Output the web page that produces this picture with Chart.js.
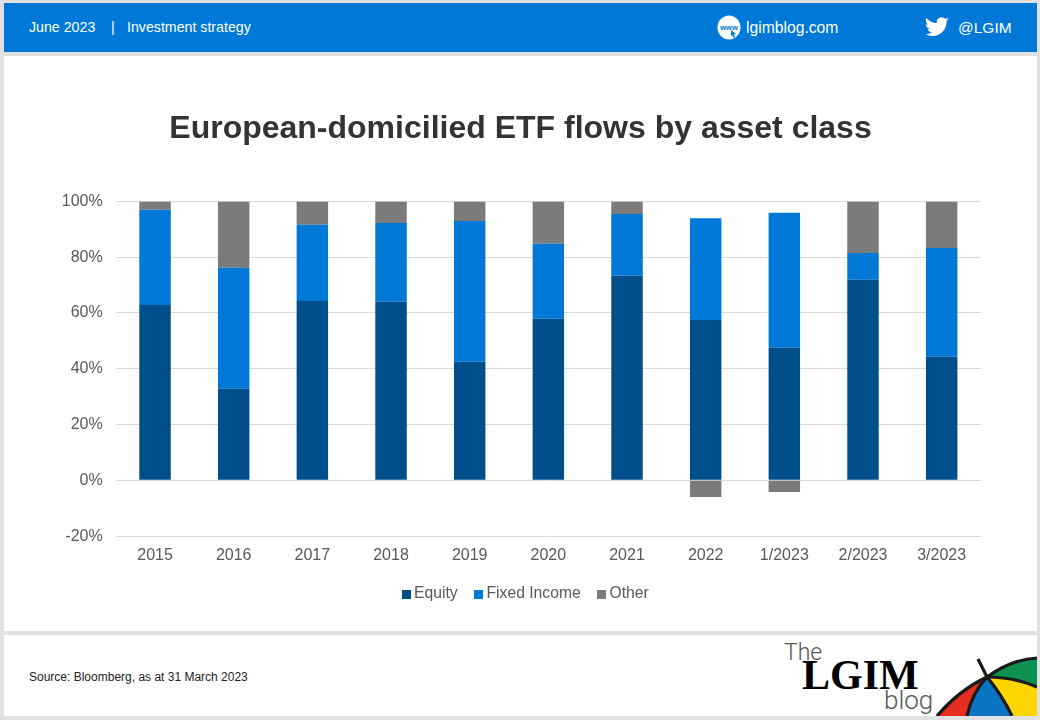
<!DOCTYPE html>
<html><head><meta charset="utf-8">
<script src="https://cdn.jsdelivr.net/npm/chart.js@4"></script>
<style>
html,body{margin:0;padding:0;background:#e1e1e1;width:1040px;height:720px;overflow:hidden;font-family:"Liberation Sans",Arial,sans-serif}
.box{position:absolute}
#head{left:4px;top:3px;width:1033px;height:49px;background:#0078d7}
#main{left:4px;top:56px;width:1033px;height:575px;background:#fff}
#foot{left:4px;top:635px;width:1033px;height:81px;background:#fff;overflow:hidden}
.t{position:absolute;color:#fff;font-size:14.2px;white-space:pre;line-height:18px}
.lt{position:absolute;font-family:Roboto,"Liberation Sans",sans-serif;font-weight:300;color:#555}
canvas{display:block}
</style></head><body>
<div class="box" id="head">
<div class="t" style="left:25px;top:15px">June 2023</div>
<div class="t" style="left:107px;top:15px">|</div>
<div class="t" style="left:123px;top:15px">Investment strategy</div>
<svg style="position:absolute;left:713px;top:12px" width="24" height="25" viewBox="0 0 24 25"><ellipse cx="12" cy="12.5" rx="11.5" ry="12" fill="#fff"/><text x="12" y="14.500" text-anchor="middle" font-size="7.500" font-weight="bold" fill="#0078d7" font-family="Liberation Sans">www</text><path d="M14 15l5 4-2 .5 1 3-1.500 .5-1-3-1.500 1z" fill="#0078d7"/></svg>
<div class="t" style="left:742px;top:16px;font-size:15.7px">lgimblog.com</div>
<svg style="position:absolute;left:921px;top:14px" width="24" height="20" viewBox="0 0 24 20"><path fill="#fff" d="M23.950 2.570a9.830 9.830 0 0 1-2.820.77 4.930 4.930 0 0 0 2.160-2.720 9.860 9.860 0 0 1-3.120 1.190 4.920 4.920 0 0 0-8.380 4.490A13.960 13.960 0 0 1 1.670.960a4.920 4.920 0 0 0 1.520 6.570 4.900 4.900 0 0 1-2.230-.62v.06a4.920 4.920 0 0 0 3.950 4.830 4.940 4.940 0 0 1-2.220.08 4.930 4.930 0 0 0 4.600 3.420A9.870 9.870 0 0 1 0 16.830a13.900 13.900 0 0 0 7.550 2.210c9.060 0 14.010-7.500 14.010-14.010 0-.21 0-.42-.01-.63a10 10 0 0 0 2.400-2.530z"/></svg>
<div class="t" style="left:954px;top:16px;font-size:15.5px">@LGIM</div>
</div>
<div class="box" id="main"><canvas id="c" width="1033" height="575" style="width:1033px;height:575px"></canvas></div>
<div class="box" id="foot">
<div style="position:absolute;left:25px;top:35px;font-size:12px;color:#222;line-height:14px">Source: Bloomberg, as at 31 March 2023</div>
<div class="lt" style="left:780px;top:5px;font-size:23px;line-height:26px">The</div>
<div style="position:absolute;left:798px;top:18px;font-size:42px;font-weight:bold;font-family:'Liberation Serif',serif;color:#000;line-height:44px">LGIM</div>
<div class="lt" style="left:880px;top:50px;font-size:26px;line-height:30px">blog</div>
<svg style="position:absolute;left:930px;top:0" width="103" height="81" viewBox="0 0 103 81">
<path d="M3 81 Q25 55 53 42 L33 81Z" fill="#e52d21"/>
<path d="M33 81 Q38 58 53 42 Q68 60 78 81Z" fill="#0a75c2"/>
<path d="M53 42 Q80 42 103 52 L103 81 L78 81 Q68 60 53 42Z" fill="#ffd500"/>
<path d="M53 42 Q78 24 103 23 L103 52 Q80 42 53 42Z" fill="#0c9150"/>
<g fill="none" stroke="#1a1a1a" stroke-width="3.200"><path d="M3 81 Q25 55 53 42 Q78 24 103 23"/><path d="M33 81 Q38 58 53 42"/><path d="M53 42 Q68 60 78 81"/><path d="M53 42 Q80 42 103 52"/><path d="M53 42 L44 24"/></g>
</svg>
</div>
<script>
const categories=["2015","2016","2017","2018","2019","2020","2021","2022","1/2023","2/2023","3/2023"];
const equity=[62.9,32.8,64.3,64,42.5,57.9,73.3,57.5,47.5,71.9,44.3];
const fixedIncome=[34.1,43.4,27.3,28.3,50.5,26.9,22.2,36.5,48.4,9.6,39];
const other=[3,23.8,8.4,7.7,7,15.2,4.5,-6,-4.2,18.5,16.7];
const tickLabelColor="#595959";
const fontFamily="'Liberation Sans',Arial,sans-serif";
const mk=(label,data,c)=>({label,data,backgroundColor:c,borderWidth:0,categoryPercentage:1,barPercentage:0.4});
const swatch=c=>{const k=document.createElement('canvas');k.width=9;k.height=9;const x=k.getContext('2d');x.fillStyle=c;x.fillRect(0,0,9,9);return k;};
const legendShift={id:'legendShift',afterLayout(ch){ch.legend.left+=7;ch.legend.right+=7;}};
new Chart(document.getElementById('c'),{
 type:'bar',
 data:{labels:categories,datasets:[mk('Equity',equity,'#004f8b'),mk('Fixed Income',fixedIncome,'#0078d7'),mk('Other',other,'#7b7b7b')]},
 plugins:[legendShift],
 options:{responsive:false,animation:false,devicePixelRatio:1,
  layout:{padding:{left:56,right:56,top:54,bottom:19}},
  plugins:{
   title:{display:true,text:'European-domicilied ETF flows by asset class',color:'#333',font:{family:fontFamily,size:32,weight:'bold'},padding:{top:0,bottom:53}},
   legend:{position:'bottom',align:'center',labels:{usePointStyle:true,boxHeight:9,pointStyleWidth:0.01,padding:21,color:tickLabelColor,font:{family:fontFamily,size:15.7},
     generateLabels(ch){const items=Chart.defaults.plugins.legend.labels.generateLabels(ch);items.forEach(i=>{i.pointStyle=swatch(i.fillStyle);});return items;}}},
   tooltip:{enabled:false}
  },
  scales:{
   x:{stacked:true,afterFit(s){s.height-=2},grid:{display:false},border:{display:false},ticks:{color:tickLabelColor,font:{family:fontFamily,size:16},padding:2,maxRotation:0}},
   y:{stacked:true,min:-20,max:100,afterFit(s){s.width=55.7},grid:{color:'#d9d9d9',lineWidth:1,drawTicks:false},border:{display:false},
      ticks:{stepSize:20,color:tickLabelColor,padding:13,font:{family:fontFamily,size:16},callback:v=>v+'%'}}
  }
 }
});
</script>
</body></html>
